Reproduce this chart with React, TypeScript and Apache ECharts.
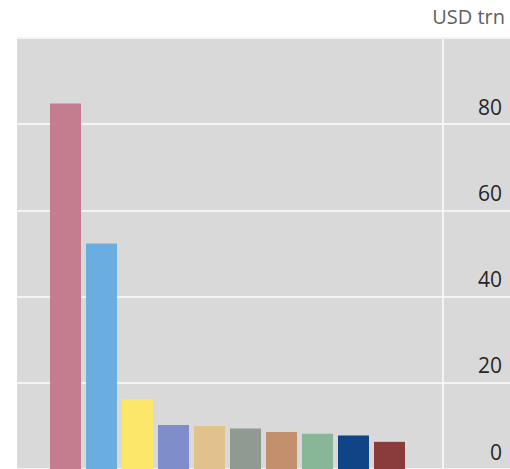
import React, { useEffect, useRef } from "react";
import * as echarts from "echarts";

const categories = ["A", "B", "C", "D", "E", "F", "G", "H", "I", "J"];
const values = [84.8, 52.3, 16.2, 10.2, 10.0, 9.4, 8.6, 8.2, 7.8, 6.3];
const barColors = [
  "#c47d8f",
  "#6aade1",
  "#fde76a",
  "#7f8dcb",
  "#e2c28c",
  "#8e9a92",
  "#c2906c",
  "#87b796",
  "#0f4487",
  "#8a3b3c",
];
const yTicks = [0, 20, 40, 60, 80];

export default function App() {
  const ref = useRef<HTMLDivElement>(null);
  useEffect(() => {
    if (!ref.current) return;
    const chart = echarts.init(ref.current, undefined, { renderer: "svg" });
    const font = "'Open Sans', 'Noto Sans', sans-serif";
    chart.setOption({
      animation: false,
      backgroundColor: "#ffffff",
      grid: [
        {
          left: 17,
          right: 0,
          top: 38,
          height: 432,
          show: true,
          backgroundColor: "#d9d9d9",
          borderWidth: 0,
        },
        { left: 47.5, width: 360, top: 38, height: 432 },
      ],
      xAxis: [
        { type: "category", gridIndex: 0, data: [""], show: false },
        {
          type: "category",
          gridIndex: 1,
          data: categories,
          show: false,
        },
      ],
      yAxis: [
        {
          type: "value",
          gridIndex: 0,
          min: 0,
          max: 100,
          interval: 20,
          position: "right",
          axisLine: { show: false },
          axisTick: { show: false },
          splitLine: { lineStyle: { color: "#f4f4f4", width: 2 } },
          axisLabel: {
            inside: true,
            margin: 8,
            align: "right",
            verticalAlign: "bottom",
            padding: [0, 0, 7, 0],
            fontSize: 21,
            color: "#262626",
            fontFamily: font,
            formatter: (v: number) => (yTicks.includes(v) ? String(v) : ""),
          },
        },
        {
          type: "value",
          gridIndex: 1,
          min: 0,
          max: 100,
          show: false,
          splitLine: { show: false },
        },
      ],
      graphic: [
        {
          type: "line",
          shape: { x1: 443, y1: 38, x2: 443, y2: 469 },
          style: { stroke: "#f4f4f4", lineWidth: 2 },
          z: 1,
        },
        {
          type: "text",
          right: 5,
          top: 6,
          style: {
            text: "USD trn",
            fontSize: 20,
            fill: "#5f5f5f",
            fontFamily: font,
          },
        },
      ],
      series: [
        {
          type: "bar",
          xAxisIndex: 1,
          yAxisIndex: 1,
          barWidth: 31,
          z: 3,
          data: values.map((v, i) => ({
            value: v,
            itemStyle: { color: barColors[i] },
          })),
        },
      ],
    });
    return () => chart.dispose();
  }, []);
  return (
    <div
      ref={ref}
      style={{ position: "fixed", left: 0, top: 0, width: 510, height: 469 }}
    />
  );
}
